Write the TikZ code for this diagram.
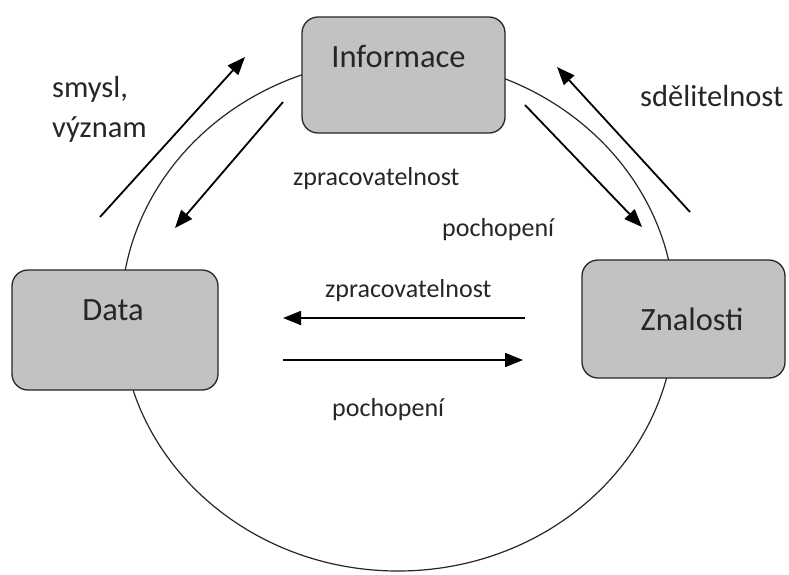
\documentclass[tikz,border=0pt]{standalone}
\usepackage{fontspec}
\setmainfont{Carlito}
\usetikzlibrary{arrows.meta}
\tikzset{
  box/.style={draw=black!85, line width=1.3pt, fill=black!24, rounded corners=16pt, inner sep=0pt},
  boxtext/.style={anchor=base, inner sep=0pt, font=\fontsize{32.5}{36}\selectfont, text=black!85},
  biglabel/.style={anchor=base west, inner sep=0pt, font=\fontsize{30.5}{37}\selectfont, text=black!85, align=left},
  smalllabel/.style={anchor=base west, inner sep=0pt, font=\fontsize{26}{30}\selectfont, text=black!85},
  flow/.style={line width=1.8pt, -{Triangle[length=18pt,width=14pt]}},
  ring/.style={draw=black!85, line width=1.2pt}
}
\begin{document}
\begin{tikzpicture}[x=1pt,y=-1pt]
\useasboundingbox (0,0) rectangle (789,574);
\fill[white] (0,0) rectangle (789,574);
% cycle ellipse
\draw[ring] (398,315) ellipse [x radius=277, y radius=256];
% boxes
\node[box, minimum width=203pt, minimum height=116pt] (inf) at (403.5,75) {};
\node[box, minimum width=206pt, minimum height=120pt] (dat) at (115,330) {};
\node[box, minimum width=203pt, minimum height=118pt] (zna) at (683.5,319) {};
\node[boxtext] (inft) at (398.5,67) {Informace};
\node[boxtext] (datt) at (113,320) {Data};
\node[boxtext] (znat) at (692,330) {Znalosti};
% arrow end points
\coordinate (a1s) at (100,217); \coordinate (a1e) at (245,57);
\coordinate (a2s) at (283,102); \coordinate (a2e) at (175,228);
\coordinate (a3s) at (525,105); \coordinate (a3e) at (642,227);
\coordinate (a4s) at (690,212); \coordinate (a4e) at (557,67);
\coordinate (a5s) at (525,318); \coordinate (a5e) at (283,318);
\coordinate (a6s) at (283,360); \coordinate (a6e) at (523,360);
\draw[flow] (a1s) -- (a1e);
\draw[flow] (a2s) -- (a2e);
\draw[flow] (a3s) -- (a3e);
\draw[flow] (a4s) -- (a4e);
\draw[flow] (a5s) -- (a5e);
\draw[flow] (a6s) -- (a6e);
% labels
\node[biglabel] (l1) at (52,97) {smysl,};
\node[biglabel] (l1b) at (52,137) {význam};
\node[biglabel] (l2) at (640,106) {sdělitelnost};
\node[smalllabel] (l3) at (293,185) {zpracovatelnost};
\node[smalllabel] (l4) at (442,236) {pochopení};
\node[smalllabel] (l5) at (325,297) {zpracovatelnost};
\node[smalllabel] (l6) at (332,416) {pochopení};
\end{tikzpicture}
\end{document}
